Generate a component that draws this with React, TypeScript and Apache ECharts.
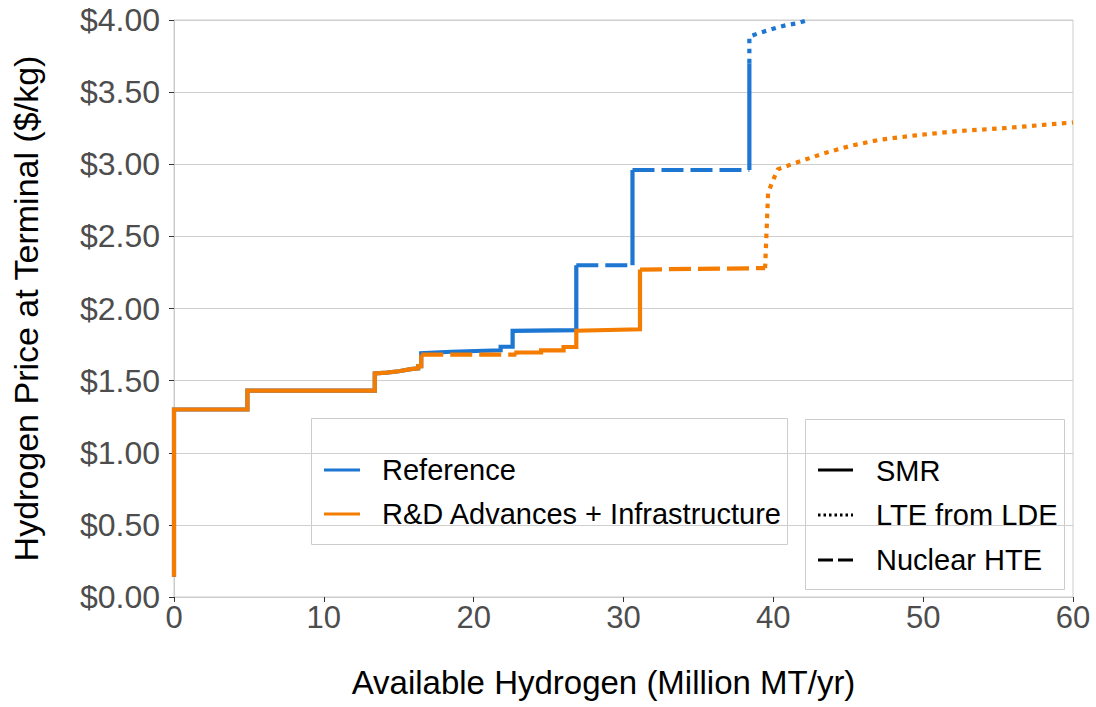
import React, { useEffect, useRef } from "react";
import * as echarts from "echarts";

// ---------- data (x = Million MT/yr, y = $/kg) ----------
const xTickValues = [0, 10, 20, 30, 40, 50, 60];
const yTickValues = [0, 0.5, 1, 1.5, 2, 2.5, 3, 3.5, 4];

const scenarioNames = ["Reference", "R&D Advances + Infrastructure"];
const technologyNames = ["SMR", "LTE from LDE", "Nuclear HTE"];

// Reference scenario
const referenceSMR: number[][][] = [
  [[0, 0.14], [0, 1.30], [4.9, 1.30], [4.9, 1.43], [13.4, 1.43], [13.4, 1.55], [14.2, 1.555], [15.0, 1.565], [15.8, 1.58], [16.3, 1.585], [16.3, 1.60], [16.5, 1.60], [16.5, 1.69], [18.5, 1.70], [21.8, 1.71], [21.8, 1.735], [22.6, 1.735], [22.6, 1.845], [26.85, 1.85], [26.85, 2.30]],
  [[30.6, 2.30], [30.6, 2.96]],
  [[38.4, 2.96], [38.4, 3.70]],
];
const referenceHTE: number[][][] = [
  [[26.85, 2.30], [30.6, 2.30]],
  [[30.6, 2.96], [38.4, 2.96]],
];
const referenceLTE: number[][][] = [
  [[38.4, 3.70], [38.4, 3.885], [39.05, 3.91], [39.7, 3.93], [40.3, 3.95], [40.9, 3.965], [41.6, 3.977], [42.3, 4.0]],
];

// R&D Advances + Infrastructure scenario
const rdSMR: number[][][] = [
  [[0, 0.14], [0, 1.30], [4.9, 1.30], [4.9, 1.43], [13.4, 1.43], [13.4, 1.55], [14.2, 1.555], [15.0, 1.565], [15.8, 1.58], [16.3, 1.585], [16.3, 1.60], [16.5, 1.60], [16.5, 1.68]],
  [[22.85, 1.68], [22.85, 1.695], [24.5, 1.695], [24.5, 1.71], [26.0, 1.71], [26.0, 1.733], [26.85, 1.733], [26.85, 1.846], [31.1, 1.856], [31.1, 2.27]],
];
const rdHTE: number[][][] = [
  [[16.5, 1.68], [22.85, 1.68]],
  [[31.1, 2.27], [39.45, 2.28]],
];
const rdLTE: number[][][] = [
  [[39.45, 2.28], [39.65, 2.80], [39.9, 2.87], [40.3, 2.965], [41.5, 3.01], [43.35, 3.075], [45.25, 3.13], [47.1, 3.17], [49.5, 3.2], [52.3, 3.23], [55.4, 3.25], [57.7, 3.27], [60, 3.29]],
];

// ---------- styles ----------
const BLUE = "#1c76d2";
const ORANGE = "#f47c00";
const FONT = "Liberation Sans, Arial, sans-serif";
const DASHED = [22, 7];
const DOTTED = [4.5, 5.5];

function makeSeries(name: string, segs: number[][][], color: string, type: any, z: number) {
  return segs.map((seg, i) => ({
    name: name + "-" + i,
    type: "line",
    data: seg,
    showSymbol: false,
    symbol: "none",
    silent: true,
    clip: true,
    z,
    lineStyle: { color, width: 4.2, type, cap: "butt", join: "miter" },
    emphasis: { disabled: true },
  }));
}

export default function App() {
  const ref = useRef<HTMLDivElement>(null);

  useEffect(() => {
    if (!ref.current) return;
    const chart = echarts.init(ref.current, undefined, { renderer: "svg" });

    const series = [
      ...makeSeries("refSMR", referenceSMR, BLUE, "solid", 2),
      ...makeSeries("refHTE", referenceHTE, BLUE, DASHED, 2),
      ...makeSeries("refLTE", referenceLTE, BLUE, DOTTED, 2),
      ...makeSeries("rdSMR", rdSMR, ORANGE, "solid", 3),
      ...makeSeries("rdHTE", rdHTE, ORANGE, DASHED, 3),
      ...makeSeries("rdLTE", rdLTE, ORANGE, DOTTED, 3),
    ];

    const legendText = { fontFamily: FONT, fontSize: 29, fill: "#000" };

    chart.setOption({
      animation: false,
      textStyle: { fontFamily: FONT },
      grid: {
        left: 174,
        right: 23,
        top: 20,
        bottom: 110,
        show: true,
        borderColor: "#cccccc",
        borderWidth: 1,
        backgroundColor: "#fff",
      },
      xAxis: {
        type: "value",
        min: xTickValues[0],
        max: xTickValues[xTickValues.length - 1],
        interval: 10,
        name: "Available Hydrogen (Million MT/yr)",
        nameLocation: "middle",
        nameGap: 69,
        nameTextStyle: { fontSize: 33, color: "#000", fontFamily: FONT, padding: [0, 40, 0, 0] },
        axisLine: { show: true, lineStyle: { color: "#cccccc", width: 1 } },
        axisTick: { show: true, length: 5, lineStyle: { color: "#333", width: 1 } },
        axisLabel: { fontSize: 31, color: "#4d4d4d", margin: 5, fontFamily: FONT },
        splitLine: { show: false },
      },
      yAxis: {
        type: "value",
        min: yTickValues[0],
        max: yTickValues[yTickValues.length - 1],
        interval: 0.5,
        name: "Hydrogen Price at Terminal ($/kg)",
        nameLocation: "middle",
        nameGap: 131,
        nameTextStyle: { fontSize: 34, color: "#000", fontFamily: FONT },
        axisLine: { show: true, lineStyle: { color: "#cccccc", width: 1 } },
        axisTick: { show: true, length: 5, lineStyle: { color: "#333", width: 1 } },
        axisLabel: {
          fontSize: 32,
          color: "#4d4d4d",
          margin: 14,
          fontFamily: FONT,
          formatter: (v: number) => "$" + v.toFixed(2),
        },
        splitLine: { show: true, lineStyle: { color: "#cfcfcf", width: 1 } },
      },
      series,
      graphic: [
        // scenario legend
        {
          type: "group",
          z: 100,
          children: [
            { type: "rect", shape: { x: 311.5, y: 418.5, width: 476, height: 126 }, style: { fill: "#fff", stroke: "#cccccc", lineWidth: 1 } },
            { type: "line", shape: { x1: 324, y1: 470, x2: 360, y2: 470 }, style: { stroke: BLUE, lineWidth: 3 } },
            { type: "text", x: 382, y: 470, style: { ...legendText, text: scenarioNames[0], verticalAlign: "middle" } },
            { type: "line", shape: { x1: 324, y1: 514, x2: 360, y2: 514 }, style: { stroke: ORANGE, lineWidth: 3 } },
            { type: "text", x: 382, y: 514, style: { ...legendText, text: scenarioNames[1], verticalAlign: "middle" } },
          ],
        },
        // technology legend
        {
          type: "group",
          z: 100,
          children: [
            { type: "rect", shape: { x: 805.5, y: 419.5, width: 259, height: 170 }, style: { fill: "#fff", stroke: "#cccccc", lineWidth: 1 } },
            { type: "line", shape: { x1: 818, y1: 470, x2: 853, y2: 470 }, style: { stroke: "#000", lineWidth: 3 } },
            { type: "text", x: 876, y: 471, style: { ...legendText, text: technologyNames[0], verticalAlign: "middle" } },
            { type: "line", shape: { x1: 818, y1: 515, x2: 853, y2: 515 }, style: { stroke: "#000", lineWidth: 3, lineDash: [2.5, 3] } },
            { type: "text", x: 876, y: 515, style: { ...legendText, text: technologyNames[1], verticalAlign: "middle" } },
            { type: "line", shape: { x1: 818, y1: 560, x2: 853, y2: 560 }, style: { stroke: "#000", lineWidth: 3, lineDash: [15, 5] } },
            { type: "text", x: 876, y: 560, style: { ...legendText, text: technologyNames[2], verticalAlign: "middle" } },
          ],
        },
      ],
    });

    return () => chart.dispose();
  }, []);

  return (
    <div
      ref={ref}
      style={{ position: "fixed", left: 0, top: 0, width: 1096, height: 707, background: "#fff" }}
    />
  );
}
